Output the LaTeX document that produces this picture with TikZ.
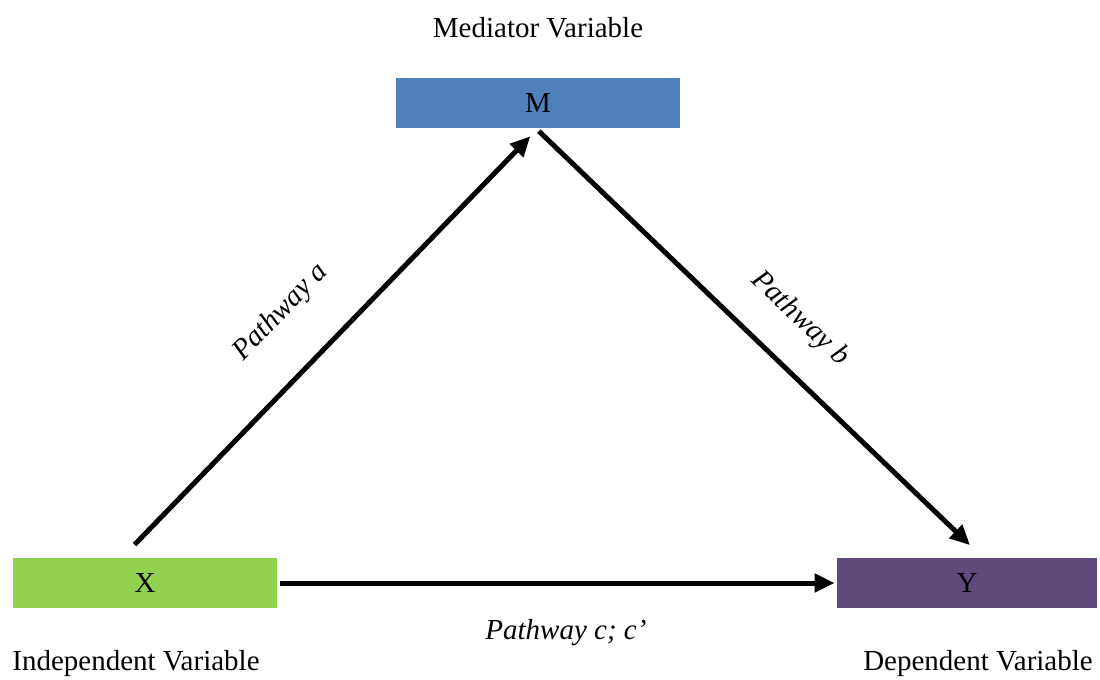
\documentclass[tikz,border=0pt]{standalone}
\usepackage{fontspec}
\setmainfont{Liberation Serif}
\usetikzlibrary{arrows.meta}
\definecolor{medblue}{HTML}{4F81BD}
\definecolor{indgreen}{HTML}{92D050}
\definecolor{deppurple}{HTML}{604A7B}
\begin{document}
\begin{tikzpicture}[x=0.5pt,y=-0.5pt,draw=black!100]
	\def \toprow{103}
	\def \bottomrow{583}
	\def \toplabel{28}
	\def \bottomlabel{664}
	\tikzstyle{var-box}=[rectangle,draw=none,inner sep=0pt,minimum height=25pt,font=\fontsize{14.5}{17}\selectfont]
	\tikzstyle{var-name}=[inner sep=0pt,font=\fontsize{14.5}{17}\selectfont]
	\tikzstyle{path-name}=[font=\fontsize{14.5}{17}\selectfont\itshape]
	\tikzstyle{pathway}=[line width=2.5pt,-{Triangle[length=10pt,width=9pt]}]
	\useasboundingbox (0,0) rectangle (1100,680);

	% variables
	\node[var-box,fill=medblue,minimum width=142pt] 	(M)	at (538,\toprow)	{M};
	\node[var-box,fill=indgreen,minimum width=132pt] 	(X)	at (145,\bottomrow)	{X};
	\node[var-box,fill=deppurple,minimum width=130pt] 	(Y)	at (967,\bottomrow)	{Y};

	% names
	\node[var-name] 	(m-name)	at (538,\toplabel)	{Mediator Variable};
	\node[var-name] 	(x-name)	at (136,\bottomlabel)	{Independent Variable};
	\node[var-name] 	(y-name)	at (978,\bottomlabel)	{Dependent Variable};

	\path[pathway]
		([xshift=-11.5pt]X.north)	edge[shorten <=9pt,shorten >=5.5pt]	node[path-name,pos=0.48,sloped,above=17pt]	{Pathway a}	(M.south)

		([xshift=-1pt]M.south)	edge[shorten <=2pt,shorten >=9pt]	node[path-name,pos=0.52,sloped,above=11.5pt]	{Pathway b}	([xshift=8pt]Y.north)

		(X.east)	edge[shorten <=1.5pt,shorten >=1pt]	node[path-name,pos=0.516,below=13.5pt]	{Pathway c; c’}	(Y.west);
\end{tikzpicture}
\end{document}
